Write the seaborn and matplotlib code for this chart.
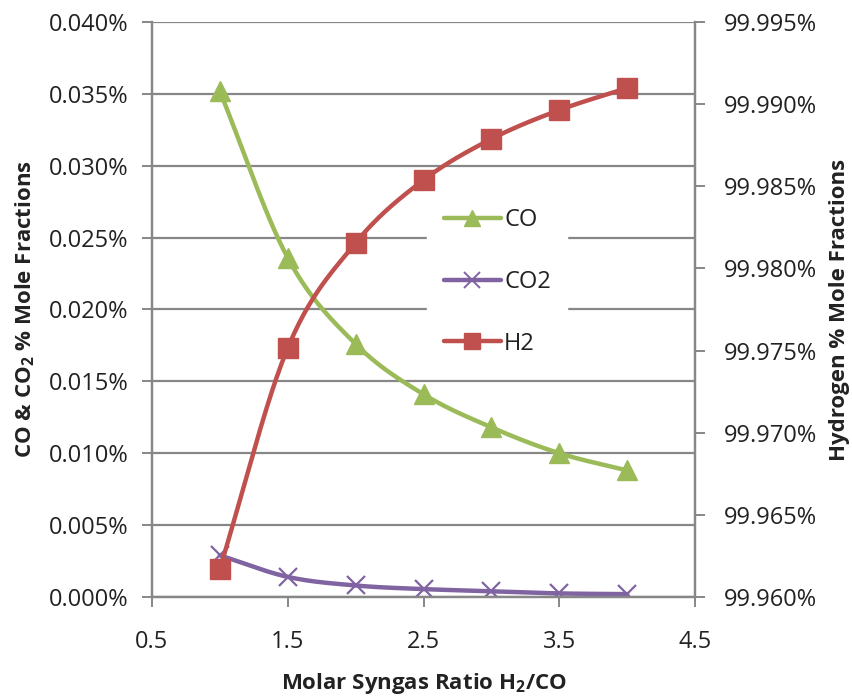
import numpy as np
import pandas as pd
import matplotlib
matplotlib.use("Agg")
import matplotlib.pyplot as plt
from matplotlib.lines import Line2D
from matplotlib.ticker import FuncFormatter, MultipleLocator
import seaborn as sns

# Molar H2/CO ratio and equilibrium mole fractions (percent)
ratio = [1.0, 1.5, 2.0, 2.5, 3.0, 3.5, 4.0]
co_pct = [0.0352, 0.0236, 0.0176, 0.0141, 0.0118, 0.0100, 0.0088]
co2_pct = [0.0029, 0.0014, 0.0008, 0.00055, 0.0004, 0.00025, 0.0002]
h2_pct = [99.9617, 99.97515, 99.98155, 99.98538, 99.98788, 99.98964, 99.99098]

series_names = ["CO", "CO2", "H2"]
x_ticks = [0.5, 1.5, 2.5, 3.5, 4.5]

GREEN = "#9BBB59"
PURPLE = "#8064A2"
RED = "#C0504D"
GRID = "#878787"

sns.set_theme(style="white")
plt.rcParams["font.family"] = ["Open Sans", "DejaVu Sans"]
plt.rcParams["mathtext.fontset"] = "custom"
plt.rcParams["mathtext.rm"] = "Open Sans:bold"
plt.rcParams["mathtext.it"] = "Open Sans:bold"
plt.rcParams["mathtext.bf"] = "Open Sans:bold"


def smooth(xs, ys, n=30):
    """Catmull-Rom curve through the points (spreadsheet-style smoothed line)."""
    p = np.column_stack([xs, ys]).astype(float)
    p = np.vstack([p[0] - (p[1] - p[0]), p, p[-1] + (p[-1] - p[-2])])
    out = []
    t = np.linspace(0, 1, n, endpoint=False)[:, None]
    for i in range(1, len(p) - 2):
        p0, p1, p2, p3 = p[i - 1], p[i], p[i + 1], p[i + 2]
        seg = 0.5 * ((2 * p1) + (-p0 + p2) * t + (2 * p0 - 5 * p1 + 4 * p2 - p3) * t ** 2
                     + (-p0 + 3 * p1 - 3 * p2 + p3) * t ** 3)
        out.append(seg)
    out.append(p[-2][None, :])
    c = np.vstack(out)
    return c[:, 0], c[:, 1]


fig = plt.figure(figsize=(8.53, 6.98), dpi=100)
ax = fig.add_axes([0.178, 0.1447, 0.637, 0.8238])
ax2 = ax.twinx()

# left axis: CO and CO2
for vals, col, mk, ms, mew in [(co_pct, GREEN, "^", 14, 1), (co2_pct, PURPLE, "x", 13, 1.6)]:
    sx, sy = smooth(ratio, vals)
    sns.lineplot(x=sx, y=sy, ax=ax, color=col, lw=3.2, sort=False, estimator=None, zorder=3)
    ax.plot(ratio, vals, ls="none", marker=mk, ms=ms, color=col, mec=col, mew=mew, zorder=4)

# right axis: H2
sx, sy = smooth(ratio, h2_pct)
sns.lineplot(x=sx, y=sy, ax=ax2, color=RED, lw=3.2, sort=False, estimator=None, zorder=3)
ax2.plot(ratio, h2_pct, ls="none", marker="s", ms=14, color=RED, zorder=4)

ax.set_xlim(0.5, 4.5)
ax.set_ylim(0, 0.040)
ax2.set_ylim(99.960, 99.995)
ax.set_xticks(x_ticks)
ax.set_xticklabels([f"{v:.1f}" for v in x_ticks])
ax.yaxis.set_major_locator(MultipleLocator(0.005))
ax2.yaxis.set_major_locator(MultipleLocator(0.005))
ax.yaxis.set_major_formatter(FuncFormatter(lambda v, p: f"{v:.3f}%"))
ax2.yaxis.set_major_formatter(FuncFormatter(lambda v, p: f"{v:.3f}%"))

ax.grid(axis="y", color=GRID, lw=1.6)
ax.grid(axis="x", visible=False)
ax2.grid(False)

for a in (ax, ax2):
    a.spines["top"].set_visible(False)
    for s in ("left", "right", "bottom"):
        a.spines[s].set_color(GRID)
        a.spines[s].set_linewidth(1.6)

ax.tick_params(axis="both", which="major", direction="out", length=7, width=1.4,
               color=GRID, labelsize=17, labelcolor="#222222", pad=9)
ax.tick_params(axis="y", left=True, right=False, pad=10)
ax.tick_params(axis="x", bottom=True, pad=17)
ax2.tick_params(axis="y", direction="out", length=7, width=1.4, color=GRID,
                labelsize=17, labelcolor="#222222", right=True, pad=14)

ax.set_xlabel("Molar Syngas Ratio H$_2$/CO", fontsize=16, fontweight="bold",
              color="#222222", labelpad=12)
ax.set_ylabel("CO & CO$_2$ % Mole Fractions", fontsize=16, fontweight="bold",
              color="#222222", labelpad=8)
ax2.set_ylabel("Hydrogen % Mole Fractions", fontsize=16, fontweight="bold",
               color="#222222", labelpad=8)

handles = [
    Line2D([], [], color=GREEN, lw=3.2, marker="^", ms=11),
    Line2D([], [], color=PURPLE, lw=3.2, marker="x", ms=11, mew=1.4),
    Line2D([], [], color=RED, lw=3.2, marker="s", ms=11),
]
leg = ax2.legend(handles, series_names, loc="center", bbox_to_anchor=(0.636, 0.548),
                 frameon=True, framealpha=1.0, fontsize=17, handlelength=2.4,
                 handletextpad=0.15, labelspacing=1.6, borderpad=0.7, fancybox=False)
leg.get_frame().set_facecolor("white")
leg.get_frame().set_edgecolor("white")
for t in leg.get_texts():
    t.set_color("#222222")

fig.savefig("out.png", dpi=100)
